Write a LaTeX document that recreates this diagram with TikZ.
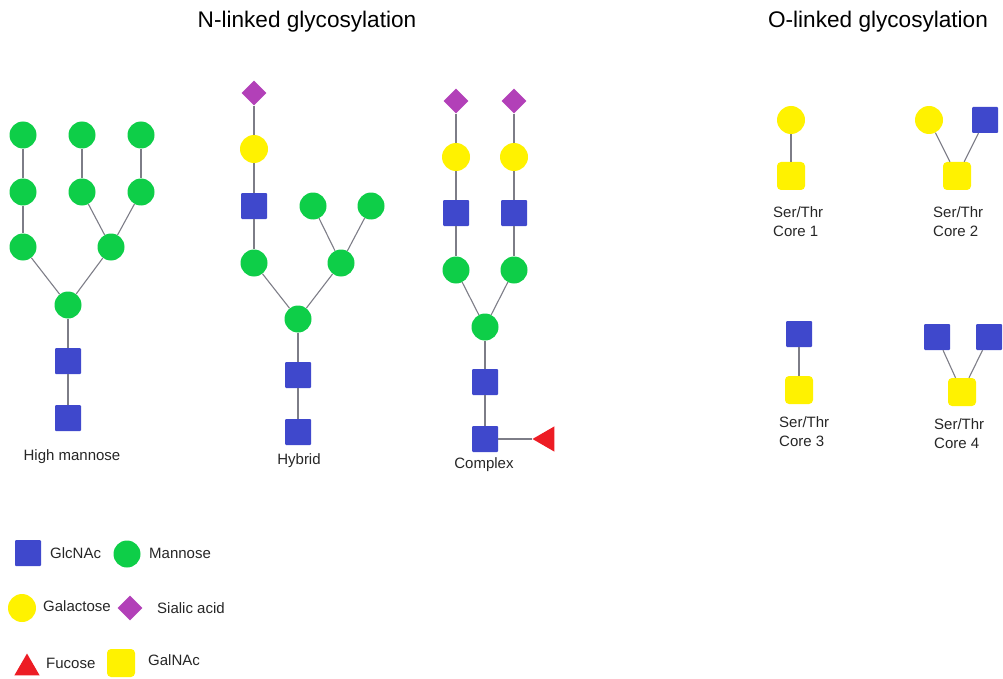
\documentclass[tikz,border=0pt]{standalone}
\usepackage{fontspec}
\setmainfont{Liberation Sans}
\usetikzlibrary{shapes.geometric}
\definecolor{glcblue}{RGB}{63,72,204}
\definecolor{mangreen}{RGB}{14,206,72}
\definecolor{galyellow}{RGB}{255,242,0}
\definecolor{siapurple}{RGB}{178,64,184}
\definecolor{fucred}{RGB}{237,28,36}
\definecolor{linkgray}{RGB}{125,125,135}

\begin{document}
\begin{tikzpicture}[x=1pt,y=-1pt,
  glc/.style={rectangle,fill=glcblue,minimum size=26pt,inner sep=0pt,rounded corners=1pt},
  galnac/.style={rectangle,fill=galyellow,minimum size=28pt,inner sep=0pt,rounded corners=4pt},
  man/.style={circle,fill=mangreen,minimum size=27pt,inner sep=0pt},
  gal/.style={circle,fill=galyellow,minimum size=28pt,inner sep=0pt},
  sia/.style={diamond,fill=siapurple,minimum size=25pt,inner sep=0pt},
  fuc/.style={regular polygon,regular polygon sides=3,fill=fucred,minimum size=29pt,inner sep=0pt},
  link/.style={draw=linkgray,line width=1.1pt},
  lbl/.style={font=\fontsize{15}{19}\selectfont,text=black!85,inner sep=0pt},
  title/.style={font=\fontsize{22.6}{27}\selectfont,inner sep=0pt}]

\useasboundingbox (0,0) rectangle (1003,679);

% titles
\node[title] (tN) at (307,22) {N-linked glycosylation};
\node[title] (tO) at (878,22) {O-linked glycosylation};

% ---------- High mannose ----------
\node[man] (hm1a) at (23,135) {};
\node[man] (hm1b) at (82,135) {};
\node[man] (hm1c) at (141,135) {};
\node[man] (hm2a) at (23,192) {};
\node[man] (hm2b) at (82,192) {};
\node[man] (hm2c) at (141,192) {};
\node[man] (hm3a) at (23,247) {};
\node[man] (hm3b) at (111,247) {};
\node[man] (hm4) at (68,305) {};
\node[glc] (hmg1) at (68,361) {};
\node[glc] (hmg2) at (68,418) {};
\draw[link] (hm1a) -- (hm2a);
\draw[link] (hm2a) -- (hm3a);
\draw[link] (hm1b) -- (hm2b);
\draw[link] (hm1c) -- (hm2c);
\draw[link] (hm2b) -- (hm3b);
\draw[link] (hm2c) -- (hm3b);
\draw[link] (hm3a) -- (hm4);
\draw[link] (hm3b) -- (hm4);
\draw[link] (hm4) -- (hmg1);
\draw[link] (hmg1) -- (hmg2);
\node[lbl] (lhm) at (72,457) {High mannose};

% ---------- Hybrid ----------
\node[sia] (hysia) at (254,93) {};
\node[gal] (hygal) at (254,149) {};
\node[glc] (hyglc) at (254,206) {};
\node[man] (hyma) at (254,263) {};
\node[man] (hymb) at (313,206) {};
\node[man] (hymc) at (371,206) {};
\node[man] (hymd) at (341,263) {};
\node[man] (hyme) at (298,319) {};
\node[glc] (hyg1) at (298,375) {};
\node[glc] (hyg2) at (298,432) {};
\draw[link] (hysia) -- (hygal);
\draw[link] (hygal) -- (hyglc);
\draw[link] (hyglc) -- (hyma);
\draw[link] (hymb) -- (hymd);
\draw[link] (hymc) -- (hymd);
\draw[link] (hyma) -- (hyme);
\draw[link] (hymd) -- (hyme);
\draw[link] (hyme) -- (hyg1);
\draw[link] (hyg1) -- (hyg2);
\node[lbl] (lhy) at (299,461) {Hybrid};

% ---------- Complex ----------
\node[sia] (cxsa) at (456,101) {};
\node[sia] (cxsb) at (514,101) {};
\node[gal] (cxga) at (456,157) {};
\node[gal] (cxgb) at (514,157) {};
\node[glc] (cxna) at (456,213) {};
\node[glc] (cxnb) at (514,213) {};
\node[man] (cxma) at (456,270) {};
\node[man] (cxmb) at (514,270) {};
\node[man] (cxmc) at (485,327) {};
\node[glc] (cxg1) at (485,382) {};
\node[glc] (cxg2) at (485,439) {};
\node[fuc,shape border rotate=90] (cxfuc) at (547,439) {};
\draw[link] (cxsa) -- (cxga);
\draw[link] (cxsb) -- (cxgb);
\draw[link] (cxga) -- (cxna);
\draw[link] (cxgb) -- (cxnb);
\draw[link] (cxna) -- (cxma);
\draw[link] (cxnb) -- (cxmb);
\draw[link] (cxma) -- (cxmc);
\draw[link] (cxmb) -- (cxmc);
\draw[link] (cxmc) -- (cxg1);
\draw[link] (cxg1) -- (cxg2);
\draw[link] (cxg2) -- (cxfuc);
\node[lbl] (lcx) at (484,465) {Complex};

% ---------- O-linked cores ----------
% core 1
\node[gal] (c1gal) at (791,120) {};
\node[galnac] (c1gn) at (791,176) {};
\draw[link] (c1gal) -- (c1gn);
\node[lbl,align=left,anchor=north west] (lc1) at (773,206) {Ser/Thr\\Core 1};
% core 2
\node[gal] (c2gal) at (929,120) {};
\node[glc] (c2glc) at (985,120) {};
\node[galnac] (c2gn) at (957,176) {};
\draw[link] (c2gal) -- (c2gn);
\draw[link] (c2glc) -- (c2gn);
\node[lbl,align=left,anchor=north west] (lc2) at (933,206) {Ser/Thr\\Core 2};
% core 3
\node[glc] (c3glc) at (799,334) {};
\node[galnac] (c3gn) at (799,390) {};
\draw[link] (c3glc) -- (c3gn);
\node[lbl,align=left,anchor=north west] (lc3) at (779,416) {Ser/Thr\\Core 3};
% core 4
\node[glc] (c4a) at (937,337) {};
\node[glc] (c4b) at (989,337) {};
\node[galnac] (c4gn) at (962,392) {};
\draw[link] (c4a) -- (c4gn);
\draw[link] (c4b) -- (c4gn);
\node[lbl,align=left,anchor=north west] (lc4) at (934,418) {Ser/Thr\\Core 4};

% ---------- legend ----------
\node[glc] (kglc) at (28,553) {};
\node[lbl,anchor=west] (tglc) at (50,553) {GlcNAc};
\node[man] (kman) at (127,554) {};
\node[lbl,anchor=west] (tman) at (149,553) {Mannose};
\node[gal] (kgal) at (22,608) {};
\node[lbl,anchor=west] (tgal) at (43,606) {Galactose};
\node[sia] (ksia) at (130,608) {};
\node[lbl,anchor=west] (tsia) at (157,608) {Sialic acid};
\node[fuc] (kfuc) at (27,668) {};
\node[lbl,anchor=west] (tfuc) at (46,663) {Fucose};
\node[galnac] (kgn) at (121,663) {};
\node[lbl,anchor=west] (tgn) at (148,660) {GalNAc};
\end{tikzpicture}
\end{document}
